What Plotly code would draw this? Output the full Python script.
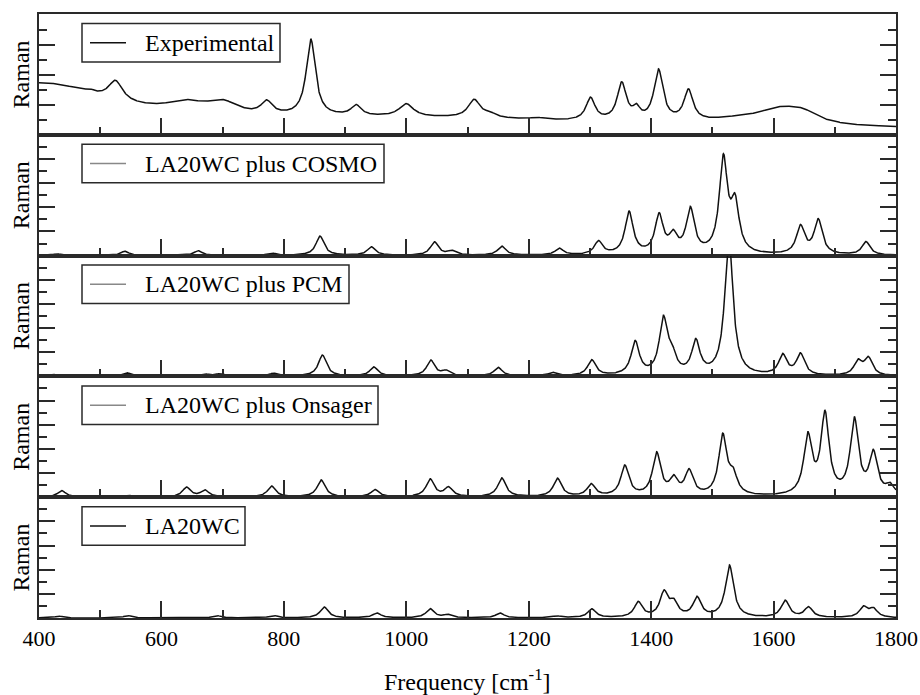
import numpy as np
import plotly.graph_objects as go

# ---------------- data ----------------
freq_range = [400, 1800]
x_tick_values = [400, 600, 800, 1000, 1200, 1400, 1600, 1800]
x_tick_labels = ["400", "600", "800", "1000", "1200", "1400", "1600", "1800"]
x_title = "Frequency [cm<sup>-1</sup>]"
y_title = "Raman"

panel_names = ["Experimental", "LA20WC plus COSMO", "LA20WC plus PCM",
               "LA20WC plus Onsager", "LA20WC"]

# Experimental: band centres [cm-1], heights, half widths (incl. broad background bands)
exp_centers = [400, 640, 700, 1000, 1540, 1610, 1648,
               483, 525, 772, 844, 918, 1000, 1111, 1137, 1213,
               1301, 1352, 1376, 1412, 1461]
exp_heights = [2.9, 0.7, 0.8, 0.75, 0.3, 0.95, 0.6,
               0.15, 1.3, 0.85, 5.1, 0.7, 0.85, 1.2, 0.25, 0.12,
               1.5, 2.5, 0.7, 3.4, 2.05]
exp_widths = [140, 40, 30, 450, 60, 45, 30,
              8, 14, 11, 9, 10, 14, 12, 12, 15,
              9, 9, 7, 9, 9]
exp_offset = 0.25

# Calculated spectra: line positions [cm-1] and heights
cosmo_centers = [429, 540, 660, 780, 859, 943, 1046, 1074, 1156, 1250, 1314, 1364,
                 1413, 1436, 1464, 1518, 1537, 1644, 1673, 1751]
cosmo_heights = [0.14, 0.36, 0.4, 0.2, 1.6, 0.7, 1.1, 0.35, 0.75, 0.55, 1.1, 3.5,
                 3.15, 1.4, 3.65, 7.7, 3.9, 2.3, 2.85, 1.1]

pcm_centers = [423, 543, 670, 695, 783, 863, 947, 1040, 1065, 1150, 1239, 1303, 1374,
               1420, 1434, 1473, 1527, 1615, 1644, 1738, 1755]
pcm_heights = [0.17, 0.3, 0.2, 0.2, 0.25, 1.75, 0.75, 1.3, 0.4, 0.72, 0.28, 1.3, 2.75,
               4.5, 1.4, 2.7, 11.5, 1.65, 1.75, 1.15, 1.41]

onsager_centers = [437, 546, 641, 671, 780, 861, 949, 1039, 1069, 1156, 1247, 1302, 1357,
                   1409, 1437, 1462, 1517, 1534, 1656, 1684, 1732, 1763, 1790]
onsager_heights = [0.55, 0.15, 0.8, 0.55, 0.9, 1.4, 0.6, 1.45, 0.75, 1.55, 1.5, 1.0, 2.5,
                   3.5, 1.3, 2.0, 4.9, 1.5, 4.8, 6.6, 6.2, 3.4, 0.8]

la20wc_centers = [432, 545, 690, 783, 866, 952, 1039, 1068, 1153, 1246, 1303, 1379,
                  1421, 1437, 1475, 1528, 1619, 1657, 1747, 1763]
la20wc_heights = [0.15, 0.2, 0.2, 0.2, 0.9, 0.4, 0.75, 0.25, 0.4, 0.15, 0.72, 1.25,
                  2.0, 1.1, 1.6, 4.3, 1.4, 0.85, 0.85, 0.7]

calc_hwhm = 8.0   # Lorentzian half width used for the calculated line spectra

# ---------------- build curves (Lorentzian broadening of the line lists) ----------------
freq = np.arange(freq_range[0], freq_range[1] + 0.25, 0.5)


def broaden(centers, heights, widths, offset=0.0):
    c = np.asarray(centers, float)[:, None]
    h = np.asarray(heights, float)[:, None]
    w = np.asarray(widths, float)[:, None]
    return offset + (h * w ** 2 / ((freq[None, :] - c) ** 2 + w ** 2)).sum(axis=0)


spectra = [
    broaden(exp_centers, exp_heights, exp_widths, exp_offset),
    broaden(cosmo_centers, cosmo_heights, [calc_hwhm] * len(cosmo_centers)),
    broaden(pcm_centers, pcm_heights, [calc_hwhm] * len(pcm_centers)),
    broaden(onsager_centers, onsager_heights, [calc_hwhm] * len(onsager_centers)),
    broaden(la20wc_centers, la20wc_heights, [calc_hwhm] * len(la20wc_centers)),
]
y_max = [8.05, 10, 10, 10, 10]
legend_right_px = [280, 384, 349, 378, 245]
legend_line_color = ["#111111", "#888888", "#888888", "#888888", "#111111"]

# ---------------- figure ----------------
W, H = 920, 695
ML, MR, MT, MB = 39, 24, 14, 77
PW, PH = W - ML - MR, H - MT - MB
FONT = "Liberation Serif"
FRAME = "#2a2a2a"


def px_x(px):
    return (px - ML) / PW


def px_y(py):
    return (H - MB - py) / PH


fig = go.Figure()
layout = dict(
    width=W, height=H,
    margin=dict(l=ML, r=MR, t=MT, b=MB, autoexpand=False),
    paper_bgcolor="white", plot_bgcolor="white",
    showlegend=False,
    font=dict(family=FONT, size=22, color="black"),
)
shapes, annotations = [], []
n = len(panel_names)
for i in range(n):
    sfx = "" if i == 0 else str(i + 1)
    top = 1 - i / n
    bot = 1 - (i + 1) / n
    fig.add_trace(go.Scatter(x=freq, y=spectra[i], mode="lines",
                             line=dict(color="#111111", width=1.5),
                             xaxis="x" + sfx, yaxis="y" + sfx,
                             name=panel_names[i], hoverinfo="skip"))
    layout["xaxis" + sfx] = dict(
        domain=[0, 1], anchor="y" + sfx, range=freq_range,
        tickmode="array", tickvals=x_tick_values, ticktext=x_tick_labels,
        ticks="inside", ticklen=17, tickwidth=1.5, tickcolor=FRAME,
        minor=dict(dtick=100, tick0=400, ticks="inside", ticklen=8, tickwidth=1.5, tickcolor=FRAME),
        showticklabels=(i == n - 1),
        tickfont=dict(family=FONT, size=22, color="black"),
        showline=True, linecolor=FRAME, linewidth=1.5, mirror=True,
        showgrid=False, zeroline=False, automargin=False,
    )
    if i != 0:
        layout["xaxis" + sfx]["matches"] = "x"
    layout["yaxis" + sfx] = dict(
        domain=[bot, top], anchor="x" + sfx, range=[0, y_max[i]],
        tick0=0, dtick=2, ticks="inside", ticklen=16, tickwidth=1.5, tickcolor=FRAME,
        minor=dict(dtick=1, ticks="inside", ticklen=8, tickwidth=1.5, tickcolor=FRAME),
        showticklabels=False,
        showline=True, linecolor=FRAME, linewidth=1.5, mirror="ticks",
        showgrid=False, zeroline=False, automargin=False,
    )
    # y label
    ptop_px = MT + i * PH / n
    annotations.append(dict(xref="paper", yref="paper", x=px_x(21), y=px_y(ptop_px + PH / n / 2),
                            text=y_title, textangle=-90, showarrow=False,
                            xanchor="center", yanchor="middle",
                            font=dict(family=FONT, size=24, color="black")))
    # legend box
    bt, bb = ptop_px + 9.5, ptop_px + 48
    bc = (bt + bb) / 2
    shapes.append(dict(type="rect", xref="paper", yref="paper",
                       x0=px_x(82), x1=px_x(legend_right_px[i]), y0=px_y(bb), y1=px_y(bt),
                       line=dict(color=FRAME, width=1.5), fillcolor="white", layer="above"))
    shapes.append(dict(type="line", xref="paper", yref="paper",
                       x0=px_x(90), x1=px_x(126), y0=px_y(bc), y1=px_y(bc),
                       line=dict(color=legend_line_color[i], width=1.5), layer="above"))
    annotations.append(dict(xref="paper", yref="paper", x=px_x(143), y=px_y(bc),
                            text=panel_names[i], showarrow=False, xanchor="left", yanchor="middle",
                            font=dict(family=FONT, size=24, color="black")))

# x-axis title
annotations.append(dict(xref="paper", yref="paper", x=0.5, y=px_y(680),
                        text=x_title, showarrow=False, xanchor="center", yanchor="middle",
                        font=dict(family=FONT, size=24, color="black")))
layout["shapes"] = shapes
layout["annotations"] = annotations
fig.update_layout(**layout)
fig.write_html("out.html")
